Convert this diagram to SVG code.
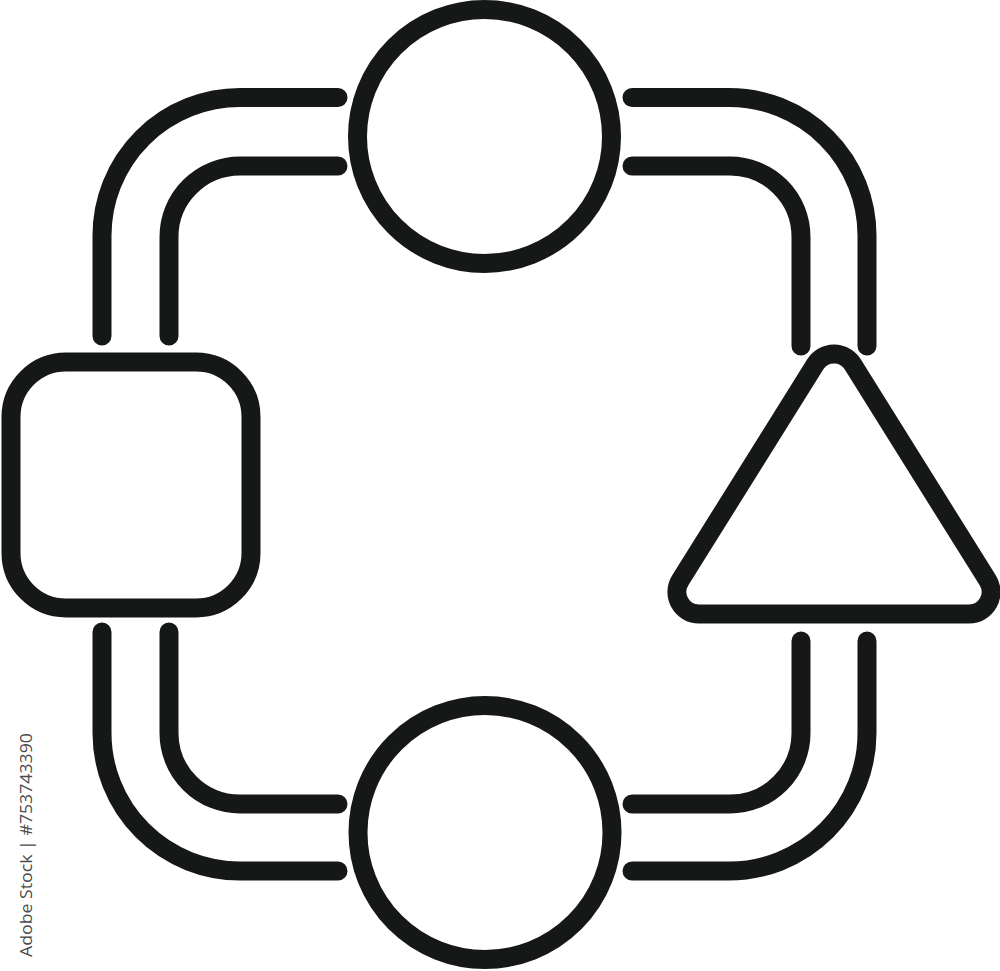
<svg xmlns="http://www.w3.org/2000/svg" width="1000" height="971" viewBox="0 0 1000 971">
<style>
.s{fill:none;stroke:#161817;stroke-width:19;stroke-linecap:round;stroke-linejoin:round}
.wm{font-family:"Open Sans","Liberation Sans",sans-serif;font-size:17px;fill:#4a4a4a}
</style>
<rect width="1000" height="971" fill="#ffffff"/>
<g id="connectors">
<path class="s" d="M102,336 V235.5 A138,138 0 0 1 240,97.5 H338"/>
<path class="s" d="M169,336 V237 A71,71 0 0 1 240,166 H338"/>
<path class="s" d="M632,97.5 H729 A138,138 0 0 1 867,235.5 V346"/>
<path class="s" d="M632,166 H730 A71,71 0 0 1 801,237 V346"/>
<path class="s" d="M102,632 V733 A138,138 0 0 0 240,871 H338"/>
<path class="s" d="M169,632 V733 A71,71 0 0 0 240,804 H338"/>
<path class="s" d="M632,871 H729 A138,138 0 0 0 867,733 V641"/>
<path class="s" d="M632,804 H730 A71,71 0 0 0 801,733 V641"/>
</g>
<g id="circle-top"><circle class="s" cx="484.5" cy="136.5" r="127"/></g>
<g id="circle-bottom"><circle class="s" cx="485" cy="832.5" r="127"/></g>
<g id="square"><rect class="s" x="11" y="362" width="240" height="246" rx="55" ry="55"/></g>
<g id="triangle"><path class="s" d="M699,614 H969 A22,22 0 0 0 987.7,580.3 L852.7,364.3 A22,22 0 0 0 815.3,364.3 L680.3,580.3 A22,22 0 0 0 699,614 Z"/></g>
<text class="wm" transform="translate(32,957) rotate(-90)" textLength="224" lengthAdjust="spacingAndGlyphs">Adobe Stock | #753743390</text>
</svg>
